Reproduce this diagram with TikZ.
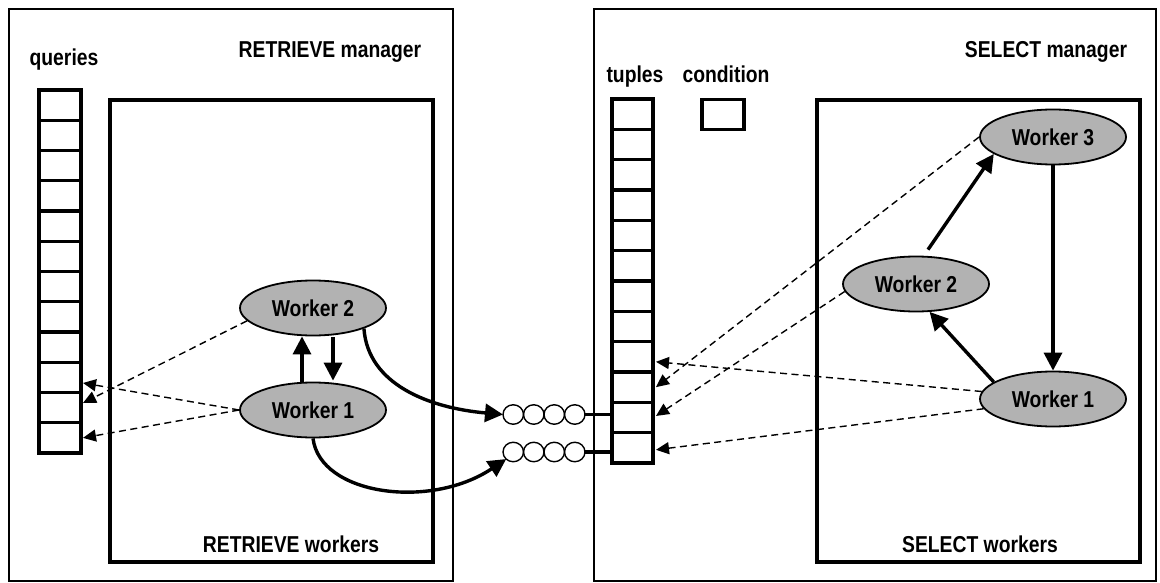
\documentclass[tikz,border=0pt]{standalone}
\usepackage{fontspec}
\newfontfamily\lblfont{Liberation Sans}[FakeStretch=0.84]
\usetikzlibrary{arrows.meta,shapes.geometric,calc}
\definecolor{workergray}{gray}{0.7}

\begin{document}
\begin{tikzpicture}[x=1pt,y=-1pt,
  lbl/.style={font=\lblfont\bfseries\fontsize{23}{25}\selectfont, inner sep=0pt},
  outerbox/.style={draw, line width=2.7pt},
  innerbox/.style={draw, line width=3.4pt},
  cell/.style={draw, line width=3.4pt, minimum width=42pt, minimum height=30.3pt, inner sep=0pt, outer sep=0pt},
  worker/.style={ellipse, draw, line width=1.8pt, fill=workergray, minimum width=146pt, minimum height=55pt, inner sep=0pt, font=\lblfont\bfseries\fontsize{23}{25}\selectfont},
  bead/.style={ellipse, draw, line width=1.4pt, minimum width=20.5pt, minimum height=19.5pt, inner sep=0pt, outer sep=0pt},
  flow/.style={line width=3.4pt, -{Triangle[length=18pt,width=18pt]}},
  ref/.style={line width=1.4pt, dash pattern=on 7pt off 4.5pt, -{Triangle[length=13pt,width=12pt]}},
  link/.style={line width=3.4pt}
]
\useasboundingbox (0,0) rectangle (1160,583);

% manager and worker frames
\draw[outerbox] (9,9) rectangle (453,581);
\draw[innerbox] (110,100) rectangle (433,562);
\draw[outerbox] (594,9) rectangle (1156,581);
\draw[innerbox] (817,100) rectangle (1140,562);

% labels
\node[lbl, anchor=base] (rmgr) at (330,58) {RETRIEVE manager};
\node[lbl, anchor=base] (smgr) at (1046,58) {SELECT manager};
\node[lbl, anchor=base] (qlbl) at (64,66) {queries};
\node[lbl, anchor=base] (tlbl) at (635,83) {tuples};
\node[lbl, anchor=base] (clbl) at (726,83) {condition};
\node[lbl, anchor=base] (rwk) at (291,552) {RETRIEVE workers};
\node[lbl, anchor=base] (swk) at (980,552) {SELECT workers};

% queues
\foreach \i in {1,...,12} {
  \node[cell, minimum height=30.25pt] (q\i) at (60,{90+30.25*(\i-0.5)}) {};
  \node[cell, minimum width=41pt, minimum height=30.33pt] (t\i) at (632.5,{99+30.33*(\i-0.5)}) {};
}
\node[cell] (cond) at (723,114.5) {};

% RETRIEVE workers
\node[worker] (lw2) at (313,308) {Worker 2};
\node[worker] (lw1) at (313,410) {Worker 1};

% SELECT workers
\node[worker] (rw3) at (1053,137) {Worker 3};
\node[worker] (rw2) at (916,284) {Worker 2};
\node[worker] (rw1) at (1053,399) {Worker 1};

% message channels
\foreach \j in {1,...,4} {
  \node[bead] (c\j) at ({513.25+20.5*(\j-1)},414.5) {};
  \node[bead] (d\j) at ({513.25+20.5*(\j-1)},452) {};
}
\draw[link] (c4.east) -- (c4.east -| t11.west);
\draw[link] (d4.east) -- (d4.east -| t12.west);

% RETRIEVE side arrows
\draw[flow] ([xshift=-11pt]lw1.north) -- ([xshift=-11pt]lw2.south);
\draw[flow] ([xshift=20pt,yshift=-1pt]lw2.south) -- ([xshift=20pt,yshift=1pt]lw1.north);
\draw[flow] (lw2.-22) .. controls (368,385) and (430,408) .. (c1.west);
\draw[flow] (lw1.south) .. controls (320,495) and (430,510) .. (d1.225);

\draw[ref] (lw1.west) -- ($(q10.east)+(2,5.6)$);
\draw[ref] (lw1.west) -- ($(q12.east)+(2,0)$);
\draw[ref] (lw2.191) -- ($(q11.east)+(2,-4.6)$);

% SELECT side arrows
\draw[flow] ($(rw2.north)+(12,-6)$) -- (rw3.196);
\draw[flow] (rw1.164) -- (rw2.-64);
\draw[flow] (rw3.south) -- (rw1.north);

\draw[ref] (rw3.west) -- ($(t10.east)+(3,0)$);
\draw[ref] (rw2.186) -- ($(t11.east)+(3,-1.5)$);
\draw[ref] (rw1.174) -- ($(t9.east)+(3,5)$);
\draw[ref] (rw1.188) -- ($(t12.east)+(3,2)$);
\end{tikzpicture}
\end{document}
